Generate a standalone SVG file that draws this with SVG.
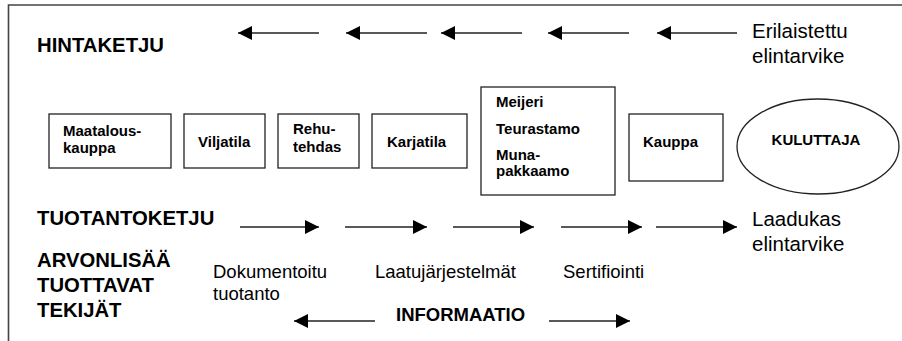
<svg xmlns="http://www.w3.org/2000/svg" width="902" height="341" viewBox="0 0 902 341">
<defs>
<marker id="ah" viewBox="0 0 14 14" refX="14" refY="7" markerWidth="14" markerHeight="14" markerUnits="userSpaceOnUse" orient="auto">
<path d="M0,0 L14,7 L0,14 Z" fill="#000"/>
</marker>
<style>
.frame{stroke:#444;stroke-width:1.6;fill:none}
.box{fill:#fff;stroke:#222;stroke-width:1.3}
.arr{stroke:#222;stroke-width:1.5;fill:none;marker-end:url(#ah)}
.bt{font-family:"Liberation Sans",Arial,sans-serif;font-weight:bold;font-size:15px;fill:#000}
.hd{font-family:"Liberation Sans",Arial,sans-serif;font-weight:bold;font-size:20.3px;fill:#000}
.rg{font-family:"Liberation Sans",Arial,sans-serif;font-size:18.5px;fill:#000}
.lg{font-family:"Liberation Sans",Arial,sans-serif;font-size:20.5px;fill:#000}
.inf{font-family:"Liberation Sans",Arial,sans-serif;font-weight:bold;font-size:18.5px;fill:#000}
</style>
</defs>
<rect width="902" height="341" fill="#fff"/>
<path class="frame" d="M8.5,341 V5 H902"/>

<text class="hd" x="37" y="52">HINTAKETJU</text>
<text class="lg" x="752" y="38">Erilaistettu</text>
<text class="lg" x="752" y="63">elintarvike</text>

<g id="maatalouskauppa"><rect class="box" x="49" y="114" width="122" height="54"/><text class="bt" x="63" y="136">Maatalous-</text><text class="bt" x="63" y="153">kauppa</text></g>
<g id="viljatila"><rect class="box" x="184" y="114" width="81" height="54"/><text class="bt" x="198" y="147">Viljatila</text></g>
<g id="rehutehdas"><rect class="box" x="278" y="114" width="81" height="54"/><text class="bt" x="293" y="134">Rehu-</text><text class="bt" x="293" y="152">tehdas</text></g>
<g id="karjatila"><rect class="box" x="372" y="114" width="95" height="54"/><text class="bt" x="387" y="147">Karjatila</text></g>
<g id="meijeri"><rect class="box" x="481" y="87" width="134" height="108"/><text class="bt" x="496" y="107">Meijeri</text><text class="bt" x="496" y="134">Teurastamo</text><text class="bt" x="496" y="160">Muna-</text><text class="bt" x="496" y="176">pakkaamo</text></g>
<g id="kauppa"><rect class="box" x="629" y="114" width="94" height="67"/><text class="bt" x="643" y="147">Kauppa</text></g>
<g id="kuluttaja"><ellipse class="box" cx="818" cy="146.5" rx="81" ry="47.5"/><text class="bt" x="816" y="145" text-anchor="middle">KULUTTAJA</text></g>

<text class="hd" x="37" y="225">TUOTANTOKETJU</text>
<text class="lg" x="752" y="226">Laadukas</text>
<text class="lg" x="752" y="251">elintarvike</text>

<text class="hd" x="37" y="267">ARVONLISÄÄ</text>
<text class="hd" x="37" y="292">TUOTTAVAT</text>
<text class="hd" x="37" y="317">TEKIJÄT</text>

<text class="rg" x="213" y="278">Dokumentoitu</text>
<text class="rg" x="213" y="300">tuotanto</text>
<text class="rg" x="375" y="278">Laatujärjestelmät</text>
<text class="rg" x="563" y="278">Sertifiointi</text>
<text class="inf" x="396" y="321">INFORMAATIO</text>

<g id="connectors">
<line class="arr" x1="319" y1="33" x2="238" y2="33"/>
<line class="arr" x1="427" y1="33" x2="346" y2="33"/>
<line class="arr" x1="522" y1="33" x2="441" y2="33"/>
<line class="arr" x1="629" y1="33" x2="548" y2="33"/>
<line class="arr" x1="737" y1="33" x2="657" y2="33"/>

<line class="arr" x1="240" y1="227" x2="319" y2="227"/>
<line class="arr" x1="345" y1="227" x2="427" y2="227"/>
<line class="arr" x1="453" y1="227" x2="534" y2="227"/>
<line class="arr" x1="561" y1="227" x2="642" y2="227"/>
<line class="arr" x1="656" y1="227" x2="737" y2="227"/>

<line class="arr" x1="375" y1="321" x2="294" y2="321"/>
<line class="arr" x1="549" y1="321" x2="630" y2="321"/>
</g>
</svg>
